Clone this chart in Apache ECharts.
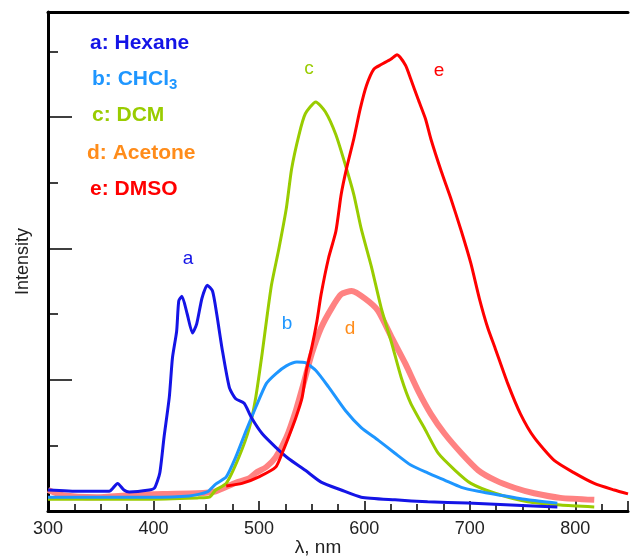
<!DOCTYPE html>
<html>
<head>
<meta charset="utf-8">
<script src="https://cdn.jsdelivr.net/npm/echarts@6/dist/echarts.min.js"></script>
<style>
  html, body { margin: 0; padding: 0; background: #fff; }
  #chart { width: 631px; height: 559px; }
</style>
</head>
<body>
<div id="chart"></div>
<script>
// Emission spectra in five solvents: [wavelength (nm), intensity (a.u.)]
const hexane = [[300,32],[330,30],[358,30],[366,42],[372,32],[377,29],[396,32],[401,35],[406,58],[410,112],[415,173],[418,233],[422,274],[424,320],[427,327],[432,300],[437,271],[441,285],[446,324],[451,344],[456,335],[460,300],[465,248],[472,188],[478,171],[486,164],[493,142],[503,118],[516,97],[528,80],[544,62],[559,44],[578,32],[597,21],[629,17],[660,14],[698,12],[739,9],[783,6]];
const chcl3 = [[300,21],[349,21],[396,21],[434,23],[451,29],[459,41],[469,52],[478,82],[488,123],[497,158],[507,194],[516,209],[526,221],[536,227],[544,226],[554,214],[566,189],[582,153],[597,127],[613,108],[629,88],[644,70],[660,58],[676,47],[692,36],[708,30],[729,24],[755,17],[783,12]];
const dcm = [[300,18],[396,18],[443,20],[453,21],[459,32],[469,42],[481,82],[491,127],[497,173],[503,239],[508,300],[512,345],[519,400],[526,461],[531,521],[538,573],[544,605],[554,623],[563,608],[573,573],[582,527],[590,482],[597,430],[607,370],[616,309],[626,255],[635,203],[644,164],[658,123],[670,88],[686,62],[701,42],[724,27],[755,14],[786,9],[818,6]];
const acetone = [[300,32],[314,24],[346,21],[377,24],[409,26],[441,27],[459,30],[478,43],[491,50],[497,58],[507,67],[516,82],[526,112],[535,153],[543,198],[550,239],[559,279],[569,309],[578,330],[588,335],[601,323],[613,305],[626,264],[639,224],[651,183],[663,148],[676,118],[692,88],[708,62],[724,47],[743,35],[761,27],[786,20],[818,17]];
const dmso = [[469,38],[484,42],[500,52],[516,67],[522,88],[528,112],[535,142],[541,173],[545,214],[550,248],[555,289],[559,330],[566,385],[573,426],[578,482],[583,521],[590,567],[596,612],[602,648],[609,673],[616,680],[625,688],[631,695],[639,679],[644,658],[651,627],[658,597],[663,567],[673,517],[682,476],[692,426],[701,377],[709,324],[717,279],[724,248],[736,194],[748,148],[761,112],[780,77],[799,58],[818,42],[837,32],[850,26]];

const xTickLabels = ['300','400','500','600','700','800'];
const solventNames = ['Hexane', 'CHCl', 'DCM', 'Acetone', 'DMSO'];

const FONT = '"Liberation Sans", Arial, Helvetica, sans-serif';
const C = {
  a: '#1414e6',
  b: '#1e96ff',
  c: '#99cc00',
  d: '#ff8282',
  dText: '#ff8c1a',
  e: '#ff0000'
};

const chart = echarts.init(document.getElementById('chart'), null, { renderer: 'canvas' });

function lineSeries(name, data, color, width, z) {
  return {
    name, type: 'line', data, showSymbol: false, symbol: 'none', smooth: 0.2,
    lineStyle: { color, width, join: 'round' },
    z, animation: false, silent: true
  };
}

function legendText(x, y, text, color) {
  return {
    type: 'text', left: x, top: y,
    style: { text, fill: color, font: 'bold 21px ' + FONT }
  };
}

function curveLabel(x, y, text, color) {
  return {
    type: 'text', x, y,
    style: { text, fill: color, font: '19px ' + FONT, align: 'center', verticalAlign: 'middle' }
  };
}

chart.setOption({
  backgroundColor: '#ffffff',
  animation: false,
  grid: { left: 48, right: 0, top: 12, bottom: 48, containLabel: false },
  xAxis: [{
    type: 'value', min: 300, max: 850, interval: 100,
    axisLine: { show: true, lineStyle: { color: '#000', width: 3 } },
    axisTick: { show: true, inside: true, length: 10, lineStyle: { color: '#000', width: 1.5 } },
    minorTick: { show: true, splitNumber: 4, length: 7, lineStyle: { color: '#000', width: 1.5 } },
    splitLine: { show: false },
    axisLabel: {
      margin: 9, color: '#222', fontSize: 18, fontFamily: FONT,
      formatter: v => xTickLabels.includes(String(v)) ? String(v) : ''
    }
  }, {
    // top frame line
    type: 'value', position: 'top', min: 300, max: 850,
    axisLine: { show: true, onZero: false, lineStyle: { color: '#000', width: 3 } },
    axisTick: { show: false }, axisLabel: { show: false }, splitLine: { show: false }
  }],
  yAxis: [{
    type: 'value', min: 0, max: 760, interval: 100,
    name: 'Intensity', nameLocation: 'middle', nameGap: 16, nameRotate: 90,
    nameTextStyle: { color: '#222', fontSize: 18, fontFamily: FONT },
    axisLine: { show: true, lineStyle: { color: '#000', width: 3 } },
    axisTick: { show: true, inside: true, length: 10, lineStyle: { color: '#000', width: 1.5 } },
    axisLabel: { show: false },
    splitLine: { show: false }
  }, {
    // longer ticks every second division
    type: 'value', min: 0, max: 760, interval: 200, position: 'left',
    axisLine: { show: false },
    axisTick: { show: true, inside: true, length: 24, lineStyle: { color: '#000', width: 1.5 } },
    axisLabel: { show: false },
    splitLine: { show: false }
  }],
  series: [
    lineSeries('d: ' + solventNames[3], acetone, C.d, 6, 2),
    lineSeries('c: ' + solventNames[2], dcm, C.c, 3, 3),
    lineSeries('b: ' + solventNames[1] + '3', chcl3, C.b, 3, 4),
    lineSeries('a: ' + solventNames[0], hexane, C.a, 3, 5),
    lineSeries('e: ' + solventNames[4], dmso, C.e, 3, 6)
  ],
  graphic: [
    legendText(90, 33, 'a: ' + solventNames[0], C.a),
    {
      type: 'text', left: 92, top: 69,
      style: {
        text: '{m|b: ' + solventNames[1] + '}{s|3}',
        rich: {
          m: { fill: C.b, font: 'bold 21px ' + FONT },
          s: { fill: C.b, font: 'bold 15px ' + FONT, padding: [11, 0, 0, 0] }
        }
      }
    },
    legendText(92, 105, 'c: ' + solventNames[2], C.c),
    legendText(87, 143, 'd: ' + solventNames[3], C.dText),
    legendText(90, 179, 'e: ' + solventNames[4], C.e),
    curveLabel(188, 259, 'a', C.a),
    curveLabel(287, 324, 'b', C.b),
    curveLabel(309, 69, 'c', C.c),
    curveLabel(350, 329, 'd', C.dText),
    curveLabel(439, 71, 'e', C.e),
    {
      type: 'text', x: 318, y: 548,
      style: { text: 'λ, nm', fill: '#222', font: '19px ' + FONT, align: 'center', verticalAlign: 'middle' }
    }
  ]
});
</script>
</body>
</html>
